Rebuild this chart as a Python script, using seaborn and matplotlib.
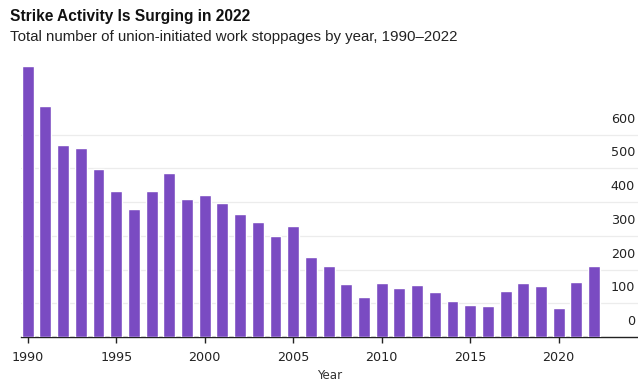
import matplotlib
matplotlib.use("Agg")
import matplotlib.pyplot as plt
import matplotlib.transforms as mtransforms
import seaborn as sns
import pandas as pd

years = list(range(1990, 2023))
stoppages = [804, 686, 570, 562, 498, 433, 380, 433, 488, 410, 422, 399, 364, 340,
             301, 329, 237, 211, 157, 119, 160, 145, 154, 134, 107, 95, 92, 136,
             160, 151, 86, 163, 211]
y_ticks = [0, 100, 200, 300, 400, 500, 600]
x_tick_years = [1990, 1995, 2000, 2005, 2010, 2015, 2020]

title = "Strike Activity Is Surging in 2022"
subtitle = "Total number of union-initiated work stoppages by year, 1990–2022"
x_label = "Year"

sns.set_theme(style="white")
plt.rcParams['font.family'] = ['DejaVu Sans']

df = pd.DataFrame({"Year": years, "Stoppages": stoppages})

W, H = 638, 383
fig = plt.figure(figsize=(W / 100, H / 100), dpi=100)
left_px, right_px, bottom_px, top_px = 21, 638, 337, 60
ax = fig.add_axes([left_px / W, (H - bottom_px) / H,
                   (right_px - left_px) / W, (bottom_px - top_px) / H])

sns.barplot(data=df, x="Year", y="Stoppages", color="#7a4bc2", width=0.67,
            saturation=1, ax=ax, zorder=3)

# gridlines
for v in y_ticks[1:]:
    ax.axhline(v, color="#ececec", lw=0.9, zorder=1)

ax.set_ylim(0, (bottom_px - top_px) / 0.337)
x0_px, step_px = 27.7, 17.7
ax.set_xlim(-(x0_px - left_px) / step_px, (right_px - x0_px) / step_px)

for s in ["top", "right", "left"]:
    ax.spines[s].set_visible(False)
ax.spines["bottom"].set_color("#222222")
ax.spines["bottom"].set_linewidth(1.0)

ax.set_yticks([])
ax.set_xticks([years.index(y) for y in x_tick_years])
ax.set_xticklabels([str(y) for y in x_tick_years], fontsize=9.2, color="#222222")
ax.tick_params(axis="x", length=4, width=1, color="#222222", pad=6, bottom=True, direction="out")
ax.set_xlabel(x_label, fontsize=8.6, color="#333333", labelpad=4)
ax.set_ylabel("")

# y labels placed above their gridlines, right-aligned inside the axes
trans = mtransforms.blended_transform_factory(ax.transAxes, ax.transData)
trans = trans + mtransforms.ScaledTranslation(-3 / 100, 9 / 100, fig.dpi_scale_trans)
for v in y_ticks:
    ax.text(1.0, v, str(v), transform=trans, ha="right", va="bottom",
            fontsize=9.2, color="#222222")

fig.text(10 / W, 1 - 16 / H, title, fontsize=11.2, fontweight="bold", color="#111111",
         va="center", ha="left", family=["Liberation Sans", "DejaVu Sans"])
fig.text(10 / W, 1 - 37 / H, subtitle, fontsize=10.8, color="#222222",
         va="center", ha="left", family=["Liberation Sans", "DejaVu Sans"])

fig.savefig("out.png", dpi=100, facecolor="white")
